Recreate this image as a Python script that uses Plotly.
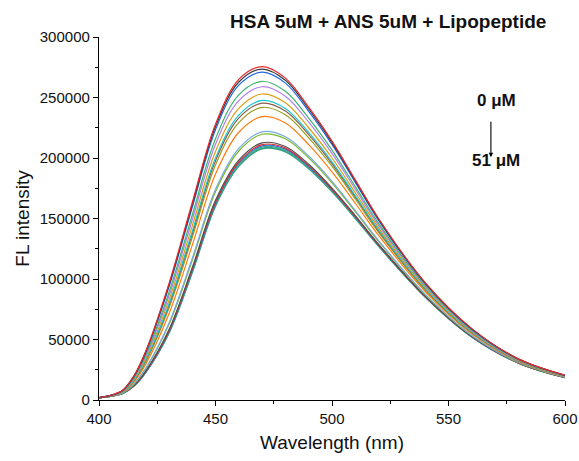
import plotly.graph_objects as go

wavelength = [400, 405, 410, 415, 420, 430, 440, 450, 460, 470, 480, 490, 500, 510, 520, 540, 560, 580, 600]

# Lipopeptide concentrations (uM), 0 -> 51 in the order of decreasing intensity
concentrations = [0, 3, 6, 9, 12, 15, 18, 21, 24, 27, 30, 33, 36, 39, 42, 45, 48, 51]

# FL intensity for each spectrum
fl_0  = [2000, 3900, 7800, 20000, 40000, 96000, 163000, 228000, 265000, 275500, 266000, 242000, 214000, 182000, 150000, 97000, 59000, 34000, 20500]
fl_3  = [2000, 3850, 7700, 19750, 39500, 94800, 161300, 226000, 262800, 273500, 264200, 240500, 212700, 181000, 149300, 96600, 58800, 33900, 20400]
fl_6  = [2000, 3800, 7600, 19400, 38800, 93300, 159100, 223400, 260200, 270900, 261900, 238600, 211200, 179900, 148500, 96200, 58500, 33800, 20400]
fl_9  = [2000, 3700, 7300, 18500, 36900, 88700, 152700, 215900, 252200, 263400, 255100, 232900, 206500, 176300, 145900, 94900, 57800, 33400, 20100]
fl_12 = [1950, 3650, 7100, 17900, 35700, 86000, 148800, 211400, 247400, 258900, 251100, 229600, 203800, 174200, 144400, 94100, 57300, 33100, 20000]
fl_15 = [1930, 3550, 6900, 17200, 34200, 82300, 143700, 205400, 241000, 252900, 245700, 225000, 200000, 171300, 142300, 93000, 56700, 32800, 19800]
fl_18 = [1920, 3500, 6700, 16500, 32800, 79200, 139200, 200100, 235500, 247600, 241000, 221100, 196800, 168900, 140600, 92100, 56100, 32600, 19700]
fl_21 = [1910, 3450, 6600, 16200, 32200, 77800, 137200, 197800, 233000, 245300, 238900, 219400, 195400, 167800, 139800, 91700, 55900, 32400, 19600]
fl_24 = [1900, 3400, 6500, 15800, 31300, 75700, 134200, 194300, 229300, 241800, 235700, 216700, 193200, 166100, 138600, 91000, 55500, 32300, 19500]
fl_27 = [1880, 3300, 6200, 14800, 29400, 71100, 127800, 186700, 221300, 234200, 229000, 211000, 188500, 162600, 136000, 89700, 54800, 31900, 19300]
fl_30 = [1840, 3150, 5700, 13300, 26100, 63500, 117000, 174100, 207900, 221600, 217600, 201600, 180700, 156600, 131800, 87500, 53400, 31200, 18900]
fl_33 = [1840, 3150, 5600, 13000, 25600, 62300, 115300, 172100, 205800, 219600, 215900, 200100, 179500, 155700, 131100, 87100, 53200, 31100, 18900]
fl_36 = [1820, 3050, 5400, 12100, 23800, 58000, 109300, 165000, 198300, 212500, 209500, 194800, 175100, 152400, 128700, 85900, 52500, 30800, 18600]
fl_39 = [1810, 3050, 5400, 11900, 23400, 57100, 108000, 163500, 196700, 211000, 208200, 193700, 174200, 151700, 128200, 85600, 52400, 30700, 18600]
fl_42 = [1810, 3000, 5300, 11800, 23100, 56500, 107100, 162500, 195700, 210000, 207300, 192900, 173600, 151200, 127900, 85400, 52300, 30600, 18600]
fl_45 = [1800, 3000, 5300, 11700, 22900, 55900, 106300, 161500, 194600, 209000, 206300, 192100, 172900, 150700, 127500, 85300, 52200, 30600, 18500]
fl_48 = [1800, 3000, 5200, 11600, 22700, 55400, 105600, 160700, 193700, 208200, 205600, 191500, 172400, 150300, 127200, 85100, 52100, 30500, 18500]
fl_51 = [1800, 3000, 5200, 11500, 22500, 55000, 105000, 160000, 193000, 207500, 205000, 191000, 172000, 150000, 127000, 85000, 52000, 30500, 18500]

spectra = [fl_0, fl_3, fl_6, fl_9, fl_12, fl_15, fl_18, fl_21, fl_24,
           fl_27, fl_30, fl_33, fl_36, fl_39, fl_42, fl_45, fl_48, fl_51]

colors = ['#e8282b', '#3a3a3a', '#1f66e0', '#3cb371', '#b07fe8', '#d4a017',
          '#1cc8d0', '#8c5a4a', '#9b9b1e', '#ff7a12', '#78a8e0', '#7ab82a',
          '#505050', '#e03030', '#3070d8', '#40b080', '#2aa198', '#3aa070']

x_ticks = [400, 450, 500, 550, 600]
y_ticks = [0, 50000, 100000, 150000, 200000, 250000, 300000]

FONT = "Liberation Sans, Arial, sans-serif"

fig = go.Figure()
# draw bottom spectra first, top (0 uM) last
for conc, ys, col in reversed(list(zip(concentrations, spectra, colors))):
    fig.add_trace(go.Scatter(
        x=wavelength, y=ys, mode='lines', name=f'{conc} uM',
        line=dict(color=col, width=1.2, shape='spline', smoothing=1.0),
        showlegend=False, hoverinfo='skip'))

axis_common = dict(
    showline=True, linecolor='black', linewidth=1.3, mirror=False,
    ticks='outside', ticklen=5, tickwidth=1.2, tickcolor='black',
    showgrid=False, zeroline=False, automargin=False,
    tickfont=dict(family=FONT, size=15, color='#111'),
)

fig.update_xaxes(
    range=[400, 600], tickvals=x_ticks, ticktext=[str(v) for v in x_ticks],
    minor=dict(ticks='outside', ticklen=3, tickwidth=1.2, tickcolor='black', dtick=25, tick0=400),
    title=dict(text='Wavelength (nm)', font=dict(family=FONT, size=19, color='#111'), standoff=9),
    **axis_common)
fig.update_yaxes(
    range=[0, 300000], tickvals=y_ticks, ticktext=[str(v) for v in y_ticks],
    minor=dict(ticks='outside', ticklen=3, tickwidth=1.2, tickcolor='black', dtick=25000, tick0=0),
    title=dict(text='FL intensity', font=dict(family=FONT, size=19, color='#111'), standoff=5),
    **axis_common)

fig.update_layout(
    width=579, height=461, autosize=False,
    margin=dict(l=99, r=14, t=37, b=61),
    paper_bgcolor='white', plot_bgcolor='white',
    annotations=[
        dict(text='<b>HSA 5uM + ANS 5uM + Lipopeptide</b>', xref='paper', yref='paper',
             x=0.62, y=1.044, xanchor='center', yanchor='middle', showarrow=False,
             font=dict(family=FONT, size=19, color='#111')),
        dict(text='<b>0 μM</b>', xref='paper', yref='paper', x=0.853, y=0.825,
             xanchor='center', yanchor='middle', showarrow=False,
             font=dict(family=FONT, size=17, color='#111')),
        dict(text='<b>51 μM</b>', xref='paper', yref='paper', x=0.851, y=0.660,
             xanchor='center', yanchor='middle', showarrow=False,
             font=dict(family=FONT, size=17, color='#111')),
        dict(text='', xref='paper', yref='paper', x=0.841, y=0.669,
             ax=0, ay=-37, axref='pixel', ayref='pixel', showarrow=True,
             arrowhead=2, arrowsize=0.8, arrowwidth=1.1, arrowcolor='black', standoff=0),
    ],
)

fig.write_html("out.html", config={'responsive': False})
